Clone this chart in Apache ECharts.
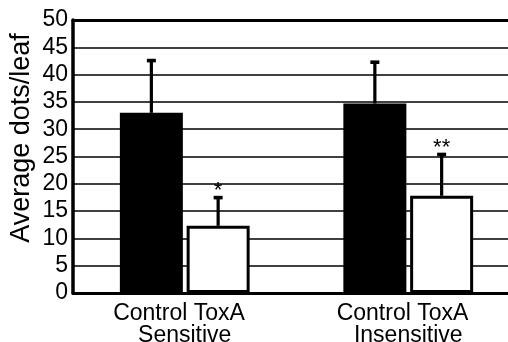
<!DOCTYPE html>
<html>
<head>
<meta charset="utf-8">
<script src="https://cdn.jsdelivr.net/npm/echarts@6/dist/echarts.min.js"></script>
<style>
html,body{margin:0;padding:0;background:#fff;}
#chart{width:508px;height:342px;}
</style>
</head>
<body>
<div id="chart"></div>
<script>
const groups = ['Control ToxA\u2002\nSensitive', 'Control ToxA\u2002\nInsensitive'];
const controlMeans = [33.0, 34.7];
const controlUpper = [42.9, 42.6];
const toxaMeans = [12.3, 17.8];
const toxaUpper = [17.8, 25.7];
const toxaMarks = ['*', '**'];
const yTicks = [0, 5, 10, 15, 20, 25, 30, 35, 40, 45, 50];

const FONT = 'Liberation Sans, Arial, Helvetica, sans-serif';
const BAR_W = 63;
const BAR_GAP = 0.06;
const HALF_SPACING = (BAR_W * (1 + BAR_GAP)) / 2;

function errorData(means, upper) {
  return means.map((m, i) => [i, m, upper[i]]);
}

function makeErrorRenderer(sign, marks) {
  return function (params, api) {
    const cat = api.value(0);
    const base = api.coord([cat, api.value(1)]);
    const top = api.coord([cat, api.value(2)]);
    const x = base[0] + sign * HALF_SPACING;
    const children = [
      { type: 'line', shape: { x1: x, y1: base[1], x2: x, y2: top[1] + 2 },
        style: { stroke: '#000', lineWidth: 3.2 } },
      { type: 'rect', shape: { x: x - 4.5, y: top[1], width: 9, height: 3.6 },
        style: { fill: '#000' } }
    ];
    const mark = marks ? marks[params.dataIndex] : '';
    if (mark) {
      children.push({ type: 'text', x: x, y: top[1] - 16,
        style: { text: mark, fill: '#000', font: '22px ' + FONT, align: 'center', verticalAlign: 'top' } });
    }
    return { type: 'group', children: children };
  };
}

const chart = echarts.init(document.getElementById('chart'), null, { renderer: 'canvas' });
chart.setOption({
  animation: false,
  backgroundColor: '#fff',
  grid: { left: 73, top: 20, width: 447, height: 273, containLabel: false, outerBoundsMode: 'none' },
  xAxis: [
    { type: 'category', data: groups, position: 'bottom',
      axisLine: { show: true, lineStyle: { color: '#000', width: 3 } },
      axisTick: { show: false },
      axisLabel: { color: '#000', fontFamily: FONT, fontSize: 23, lineHeight: 22, margin: 10, interval: 0 },
      splitLine: { show: false } },
    { type: 'category', data: groups, position: 'top',
      axisLine: { show: true, lineStyle: { color: '#000', width: 3 } },
      axisTick: { show: false }, axisLabel: { show: false }, splitLine: { show: false } }
  ],
  yAxis: {
    type: 'value', min: yTicks[0], max: yTicks[yTicks.length - 1], interval: 5,
    axisLine: { show: true, lineStyle: { color: '#000', width: 3.5 } },
    axisTick: { show: false },
    axisLabel: { color: '#000', fontFamily: FONT, fontSize: 23, margin: 5 },
    splitLine: { show: true, lineStyle: { color: '#000', width: 1.6 } }
  },
  graphic: [{
    type: 'text', x: 22, y: 138, rotation: Math.PI / 2,
    style: { text: 'Average dots/leaf', fill: '#000', font: '27px ' + FONT, align: 'center', verticalAlign: 'middle' }
  }],
  series: [
    { type: 'custom', name: 'ctrlErr', xAxisIndex: 0, z: 1,
      renderItem: makeErrorRenderer(-1, null), data: errorData(controlMeans, controlUpper) },
    { type: 'custom', name: 'toxErr', xAxisIndex: 0, z: 1,
      renderItem: makeErrorRenderer(1, toxaMarks), data: errorData(toxaMeans, toxaUpper) },
    { type: 'bar', name: 'Control', data: controlMeans, barWidth: BAR_W, barGap: (BAR_GAP * 100) + '%', z: 3,
      itemStyle: { color: '#000' } },
    { type: 'bar', name: 'ToxA', data: toxaMeans, barWidth: BAR_W, barGap: (BAR_GAP * 100) + '%', z: 3,
      itemStyle: { color: '#fff', borderColor: '#000', borderWidth: 3 } }
  ]
});
</script>
</body>
</html>
